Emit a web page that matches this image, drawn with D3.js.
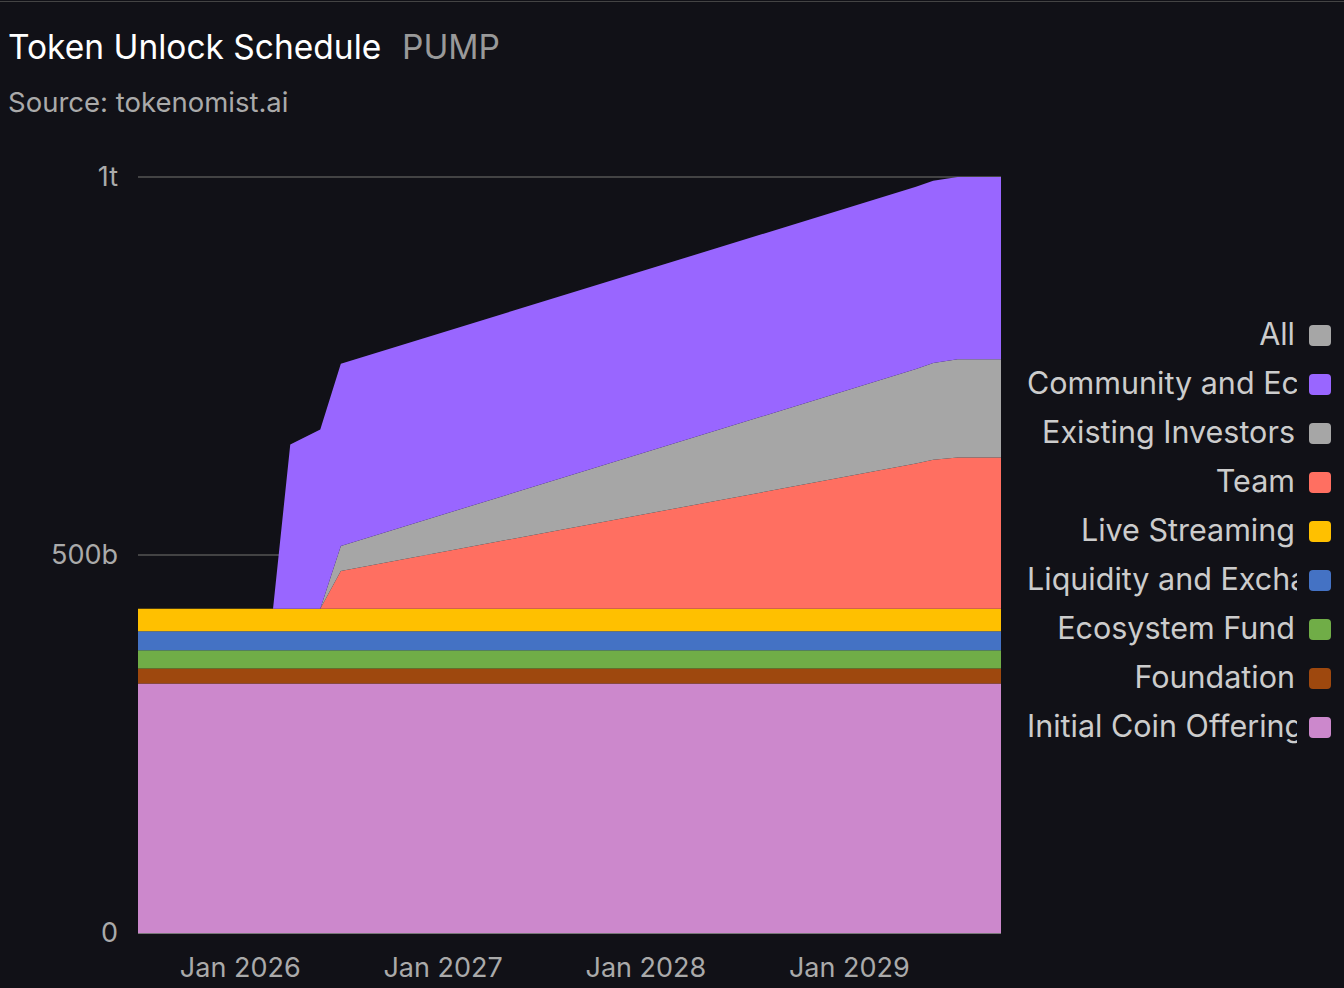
<!DOCTYPE html>
<html><head><meta charset="utf-8">
<script src="https://cdn.jsdelivr.net/npm/d3@7"></script>
<style>
body{margin:0;background:#111117;font-family:Inter,"Noto Sans",sans-serif;}
</style></head>
<body><svg id="chart" width="1344" height="988"></svg>
<script>
// key dates of the schedule
const dates = ["2025-07-01","2026-03-01","2026-04-01","2026-05-25","2026-07-01","2029-05-01","2029-06-01","2029-07-15","2029-10-01"];
// values in billions, bottom to top
const ico = [330,330,330,330,330,330,330,330,330];
const foundation = [20,20,20,20,20,20,20,20,20];
const ecosystem = [24,24,24,24,24,24,24,24,24];
const liquidity = [25,25,25,25,25,25,25,25,25];
const liveStreaming = [30,30,30,30,30,30,30,30,30];
const team = [0,0,0,0,50,192,197,200,200];
const investors = [0,0,0,0,33,125,128,130,130];
const community = [0,0,217,237,241,241,241,241,241];

const seriesNames = ["Initial Coin Offering","Foundation","Ecosystem Fund","Liquidity and Exchange","Live Streaming","Team","Existing Investors","Community and Ecosystem"];
const seriesVals = [ico,foundation,ecosystem,liquidity,liveStreaming,team,investors,community];
const colors = ["#cc88cc","#9e480e","#70ad47","#4472c4","#ffc000","#ff6f61","#a6a6a6","#9966ff"];
const legendNames = ["All","Community and Ecosystem","Existing Investors","Team","Live Streaming","Liquidity and Exchange","Ecosystem Fund","Foundation","Initial Coin Offering"];
const legendColors = ["#a6a6a6","#9966ff","#a6a6a6","#ff6f61","#ffc000","#4472c4","#70ad47","#9e480e","#cc88cc"];
const yTicks = [0,500,1000];
const yTickLabels = ["0","500b","1t"];
const xTicks = ["2026-01-01","2027-01-01","2028-01-01","2029-01-01"];

const svg = d3.select("#chart");
const parse = d3.timeParse("%Y-%m-%d");

svg.append("line").attr("x1",0).attr("x2",1344).attr("y1",1.5).attr("y2",1.5).attr("stroke","#444");
svg.append("text").attr("x",8).attr("y",59).attr("fill","#fff").attr("font-size",33.5).text("Token Unlock Schedule");
svg.append("text").attr("x",402).attr("y",59).attr("fill","#999").attr("font-size",33.5).text("PUMP");
svg.append("text").attr("x",8).attr("y",112).attr("fill","#aaa").attr("font-size",27.5).text("Source: tokenomist.ai");

const x = d3.scaleTime().domain([parse(dates[0]),parse(dates[dates.length-1])]).range([138,1001]);
const y = d3.scaleLinear().domain([0,1000]).range([933,177]);

const rows = dates.map((d,i) => {
  const r = {date: parse(d)};
  seriesNames.forEach((n,j) => r[n] = seriesVals[j][i]);
  return r;
});
const stacked = d3.stack().keys(seriesNames)(rows);

svg.selectAll(".grid").data(yTicks.slice(1)).enter().append("line")
  .attr("x1",138).attr("x2",1001).attr("y1",d=>y(d)).attr("y2",d=>y(d))
  .attr("stroke","#555").attr("stroke-width",1.5);

const area = d3.area().x(d=>x(d.data.date)).y0(d=>y(d[0])).y1(d=>y(d[1]));
svg.selectAll(".layer").data(stacked).enter().append("path")
  .attr("d",area).attr("fill",(d,i)=>colors[i]);

svg.selectAll(".ytl").data(yTicks).enter().append("text")
  .attr("x",118).attr("y",d=>y(d)+9).attr("text-anchor","end")
  .attr("fill","#aaa").attr("font-size",27).text((d,i)=>yTickLabels[i]);

svg.append("line").attr("x1",138).attr("x2",1001).attr("y1",933.5).attr("y2",933.5).attr("stroke","#777");
svg.selectAll(".xtl").data(xTicks).enter().append("text")
  .attr("x",d=>x(parse(d))).attr("y",977).attr("text-anchor","middle")
  .attr("fill","#aaa").attr("font-size",27).text(d=>d3.timeFormat("Jan %Y")(parse(d)));

// legend: long names start at the left edge and get cut at the right
svg.append("clipPath").attr("id","lc").append("rect").attr("x",1000).attr("y",300).attr("width",297).attr("height",460);
const legWrap = svg.append("g").attr("clip-path","url(#lc)");
legWrap.selectAll(".leg").data(legendNames).enter().append("text")
  .attr("y",(d,i)=>345+i*49).attr("fill","#ccc").attr("font-size",30.5).text(d=>d)
  .each(function() {
    const w = this.getComputedTextLength();
    if (w > 268) d3.select(this).attr("x",1027).attr("text-anchor","start");
    else d3.select(this).attr("x",1295).attr("text-anchor","end");
  });
svg.selectAll(".sw").data(legendNames).enter().append("rect")
  .attr("x",1309).attr("y",(d,i)=>325+i*49).attr("width",22).attr("height",21).attr("rx",4)
  .attr("fill",(d,i)=>legendColors[i]);
</script></body></html>
